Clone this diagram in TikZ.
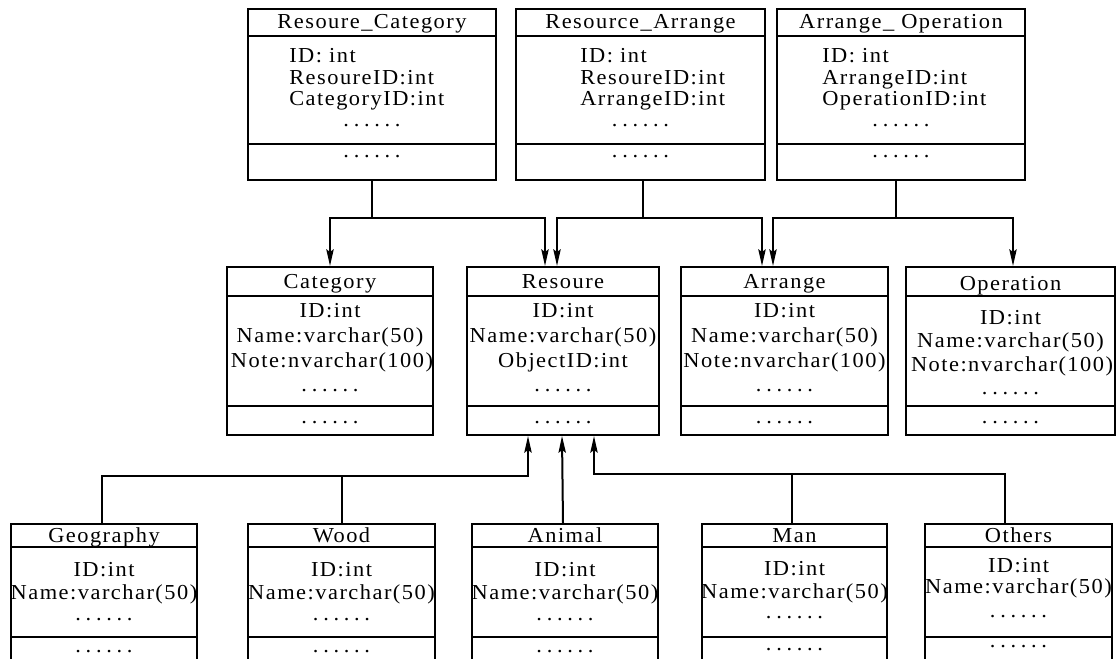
\documentclass[tikz,border=0pt]{standalone}
\usepackage{fontspec}
\setmainfont{Liberation Serif}[FakeStretch=1.05,LetterSpace=7]
\usetikzlibrary{arrows.meta,calc}

\newcommand{\rowdots}{{\addfontfeature{LetterSpace=22}......}}

\begin{document}
\begin{tikzpicture}[x=0.75pt,y=0.75pt,yscale=-1,xscale=1,
  tbl/.style 2 args={draw,line width=1.5pt,inner sep=0pt,minimum width=#1*0.75pt,minimum height=#2*0.75pt},
  sepline/.style={line width=1.5pt},
  txt/.style={anchor=base,inner sep=0pt,font=\fontsize{16}{19}\selectfont},
  ltxt/.style={txt,anchor=base west},
  link/.style={line width=1.5pt,-{Stealth[length=12.5pt,width=5.5pt,inset=2pt]}},
  joinline/.style={line width=1.5pt}]

\useasboundingbox (0,0) rectangle (1118,659);
\clip (0,0) rectangle (1118,659);

%Shape: Table boxes, top row
\node[tbl={248}{171}] (rcat) at (372,94.5) {};
\node[tbl={249}{171}] (rarr) at (640.5,94.5) {};
\node[tbl={248}{171}] (aop) at (901,94.5) {};
\draw[sepline] (248,36) -- (496,36) (248,144) -- (496,144);
\draw[sepline] (516,36) -- (765,36) (516,144) -- (765,144);
\draw[sepline] (777,36) -- (1025,36) (777,144) -- (1025,144);

%Shape: Table boxes, middle row
\node[tbl={206}{168}] (cat) at (330,351) {};
\node[tbl={192}{168}] (res) at (563,351) {};
\node[tbl={207}{168}] (arr) at (784.5,351) {};
\node[tbl={209}{168}] (op) at (1010.5,351) {};
\draw[sepline] (227,296) -- (433,296) (227,406) -- (433,406);
\draw[sepline] (467,296) -- (659,296) (467,406) -- (659,406);
\draw[sepline] (681,296) -- (888,296) (681,406) -- (888,406);
\draw[sepline] (906,296) -- (1115,296) (906,406) -- (1115,406);

%Shape: Table boxes, bottom row (cut by the page edge)
\node[tbl={186}{150}] (geo) at (104,599) {};
\node[tbl={187}{150}] (wood) at (341.5,599) {};
\node[tbl={186}{150}] (ani) at (565,599) {};
\node[tbl={185}{150}] (man) at (794.5,599) {};
\node[tbl={187}{150}] (oth) at (1018.5,599) {};
\draw[sepline] (11,547) -- (197,547) (11,637) -- (197,637);
\draw[sepline] (248,547) -- (435,547) (248,637) -- (435,637);
\draw[sepline] (472,547) -- (658,547) (472,637) -- (658,637);
\draw[sepline] (702,547) -- (887,547) (702,637) -- (887,637);
\draw[sepline] (925,547) -- (1112,547) (925,637) -- (1112,637);

%Connectors, top row to middle row
\draw[link] (rcat.south) -- ++(0,37) coordinate (rcj) -| (cat.north);
\draw[link] (rcj) -| ($(res.north west)+(79,0)$);
\draw[link] ($(rarr.south)+(2.5,0)$) -- ++(0,37) coordinate (raj) -| ($(res.north west)+(91,0)$);
\draw[link] (raj) -| ($(arr.north west)+(82,0)$);
\draw[link] ($(aop.south)+(-5,0)$) -- ++(0,37) coordinate (aoj) -| ($(arr.north west)+(93,0)$);
\draw[link] (aoj) -| ($(op.north)+(2.5,0)$);

%Connectors, bottom row to Resoure
\coordinate (wtop) at ($(wood.north)+(0.5,0)$);
\coordinate (mtop) at ($(man.north)+(-2.5,0)$);
\draw[link] ($(geo.north)+(-2,0)$) -- ++(0,-47) coordinate (gj) -| ($(res.south west)+(62,0)$);
\draw[joinline] (wtop) -- (wtop |- gj);
\draw[link] ($(ani.north)+(-2,0)$) -- ($(res.south west)+(96,0)$);
\draw[link] ($(oth.north)+(-13.5,0)$) -- ++(0,-49) coordinate (oj) -| ($(res.south west)+(128,0)$);
\draw[joinline] (mtop) -- (mtop |- oj);

% Text Node: Resoure_Category
\node[txt] (rcatT) at (372,29) {Resoure\_Category};
\node[ltxt] (rcat1) at (289,63) {ID: int};
\node[ltxt] (rcat2) at (289,85) {ResoureID:int};
\node[ltxt] (rcat3) at (289,106) {CategoryID:int};
\node[txt] (rcat4) at (372,127) {\rowdots};
\node[txt] (rcat5) at (372,158) {\rowdots};
% Text Node: Resource_Arrange
\node[txt] (rarrT) at (640.5,29) {Resource\_Arrange};
\node[ltxt] (rarr1) at (580,63) {ID: int};
\node[ltxt] (rarr2) at (580,85) {ResoureID:int};
\node[ltxt] (rarr3) at (580,106) {ArrangeID:int};
\node[txt] (rarr4) at (640.5,127) {\rowdots};
\node[txt] (rarr5) at (640.5,158) {\rowdots};
% Text Node: Arrange_ Operation
\node[txt] (aopT) at (901,29) {Arrange\_ Operation};
\node[ltxt] (aop1) at (822,63) {ID: int};
\node[ltxt] (aop2) at (822,85) {ArrangeID:int};
\node[ltxt] (aop3) at (822,106) {OperationID:int};
\node[txt] (aop4) at (901,127) {\rowdots};
\node[txt] (aop5) at (901,158) {\rowdots};

% Text Node: Category
\node[txt] (catT) at (330,289) {Category};
\node[txt] (cat1) at (330,318) {ID:int};
\node[txt] (cat2) at (330,343) {Name:varchar(50)};
\node[txt] (cat3) at (332,368) {Note:nvarchar(100)};
\node[txt] (cat4) at (330,392) {\rowdots};
\node[txt] (cat5) at (330,423) {\rowdots};
% Text Node: Resoure
\node[txt] (resT) at (563,289) {Resoure};
\node[txt] (res1) at (563,318) {ID:int};
\node[txt] (res2) at (563,343) {Name:varchar(50)};
\node[txt] (res3) at (563,368) {ObjectID:int};
\node[txt] (res4) at (563,392) {\rowdots};
\node[txt] (res5) at (563,423) {\rowdots};
% Text Node: Arrange
\node[txt] (arrT) at (784.5,289) {Arrange};
\node[txt] (arr1) at (784.5,318) {ID:int};
\node[txt] (arr2) at (784.5,343) {Name:varchar(50)};
\node[txt] (arr3) at (784.5,368) {Note:nvarchar(100)};
\node[txt] (arr4) at (784.5,392) {\rowdots};
\node[txt] (arr5) at (784.5,423) {\rowdots};
% Text Node: Operation
\node[txt] (opT) at (1010.5,291) {Operation};
\node[txt] (op1) at (1010.5,325) {ID:int};
\node[txt] (op2) at (1010.5,348) {Name:varchar(50)};
\node[txt] (op3) at (1012,372) {Note:nvarchar(100)};
\node[txt] (op4) at (1010.5,395) {\rowdots};
\node[txt] (op5) at (1010.5,423) {\rowdots};

% Text Node: Geography
\node[txt] (geoT) at (104,542) {Geography};
\node[txt] (geo1) at (104,576) {ID:int};
\node[txt] (geo2) at (104,599) {Name:varchar(50)};
\node[txt] (geo3) at (104,620) {\rowdots};
\node[txt] (geo4) at (104,652) {\rowdots};
% Text Node: Wood
\node[txt] (woodT) at (341.5,542) {Wood};
\node[txt] (wood1) at (341.5,576) {ID:int};
\node[txt] (wood2) at (341.5,599) {Name:varchar(50)};
\node[txt] (wood3) at (341.5,620) {\rowdots};
\node[txt] (wood4) at (341.5,652) {\rowdots};
% Text Node: Animal
\node[txt] (aniT) at (565,542) {Animal};
\node[txt] (ani1) at (565,576) {ID:int};
\node[txt] (ani2) at (565,599) {Name:varchar(50)};
\node[txt] (ani3) at (565,620) {\rowdots};
\node[txt] (ani4) at (565,652) {\rowdots};
% Text Node: Man
\node[txt] (manT) at (794.5,542) {Man};
\node[txt] (man1) at (794.5,575) {ID:int};
\node[txt] (man2) at (794.5,598) {Name:varchar(50)};
\node[txt] (man3) at (794.5,618) {\rowdots};
\node[txt] (man4) at (794.5,650) {\rowdots};
% Text Node: Others
\node[txt] (othT) at (1018.5,542) {Others};
\node[txt] (oth1) at (1018.5,572) {ID:int};
\node[txt] (oth2) at (1018.5,593) {Name:varchar(50)};
\node[txt] (oth3) at (1018.5,617) {\rowdots};
\node[txt] (oth4) at (1018.5,647) {\rowdots};
\end{tikzpicture}
\end{document}
